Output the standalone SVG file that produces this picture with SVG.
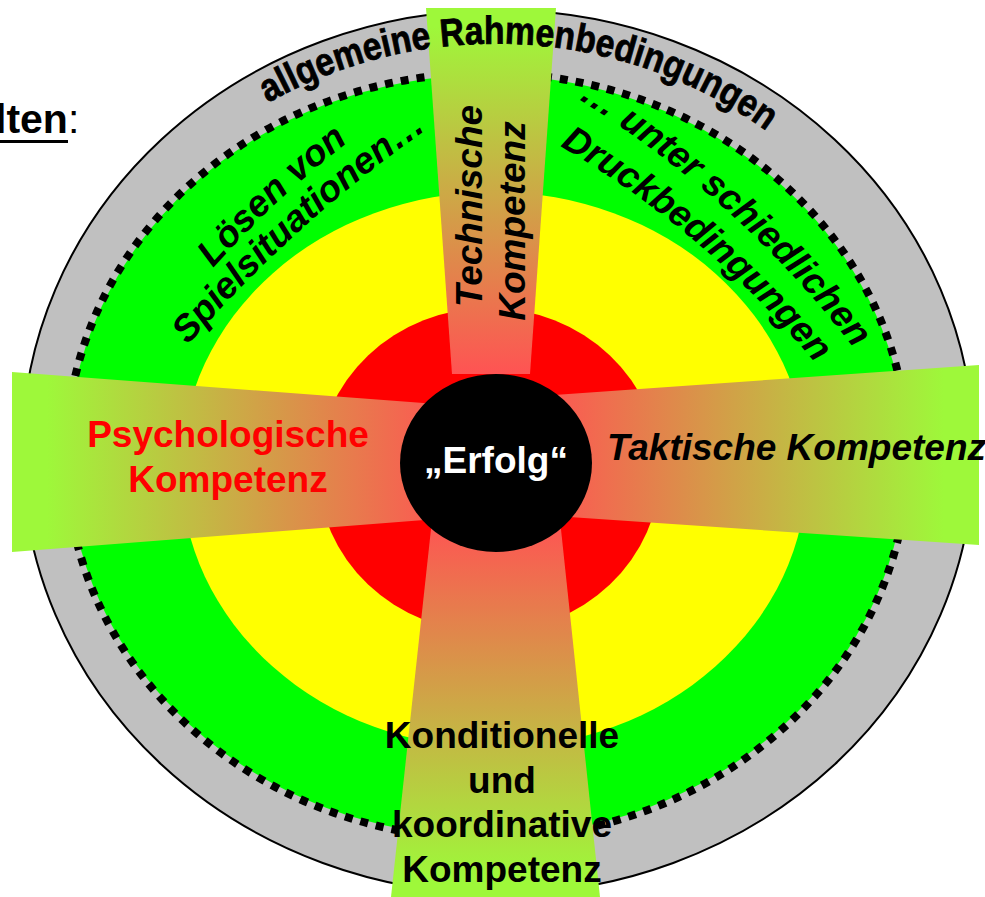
<svg xmlns="http://www.w3.org/2000/svg" width="985" height="897" viewBox="0 0 985 897">
<defs>
<linearGradient id="gTop" x1="0" y1="0" x2="0" y2="1"><stop offset="0.05" stop-color="#9EF83A"/><stop offset="1" stop-color="#FF5353"/></linearGradient>
<linearGradient id="gBottom" x1="0" y1="1" x2="0" y2="0"><stop offset="0.05" stop-color="#9EF83A"/><stop offset="1" stop-color="#FF5353"/></linearGradient>
<linearGradient id="gLeft" x1="0" y1="0" x2="1" y2="0"><stop offset="0.08" stop-color="#9EF83A"/><stop offset="1" stop-color="#FF5353"/></linearGradient>
<linearGradient id="gRight" x1="1" y1="0" x2="0" y2="0"><stop offset="0.08" stop-color="#9EF83A"/><stop offset="1" stop-color="#FF5353"/></linearGradient>
<path id="arcTop" d="M268,103 A440,412 0 0,1 830,188"/>
<path id="arcL1" d="M213,268 A1019,1019 0 0,1 431,84"/>
<path id="arcL2" d="M188,345 A1297,1297 0 0,1 500,82"/>
<path id="arcR1" d="M578,99 A1032,1032 0 0,1 890,398"/>
<path id="arcR2" d="M560,146 A948,948 0 0,1 862,425"/>
</defs>
<style>
text{font-family:"Liberation Sans",Arial,sans-serif;font-weight:bold;font-size:37px}
.it{font-style:italic}
.blk{fill:#000}
</style>
<g id="heading">
<text x="-5" y="133" class="blk" style="font-size:41px">lten<tspan style="font-weight:normal">:</tspan></text>
<rect x="-5" y="140" width="73" height="3" fill="#000"/>
</g>
<g id="ring-outer"><ellipse cx="498" cy="452" rx="476" ry="442" fill="#C0C0C0" stroke="#000" stroke-width="2"/></g>
<g id="ring-green">
<ellipse cx="487" cy="456" rx="419" ry="381" fill="#00FF00"/>
<ellipse cx="487" cy="456" rx="421" ry="383" fill="none" stroke="#000" stroke-width="8" stroke-dasharray="8 8"/>
</g>
<g id="ring-yellow"><ellipse cx="494" cy="470" rx="313" ry="278" fill="#FFFF00"/></g>
<g id="ring-red"><ellipse cx="489" cy="470" rx="171" ry="162" fill="#FF0000"/></g>
<g id="banner-top"><polygon points="426,8 556,8 530,374 452,374" fill="url(#gTop)"/></g>
<g id="banner-left"><polygon points="12,372 450,405 450,518 12,552" fill="url(#gLeft)"/></g>
<g id="banner-right"><polygon points="540,396 979,365 979,545 540,515" fill="url(#gRight)"/></g>
<g id="banner-bottom"><polygon points="432,520 560,520 600,897 391,897" fill="url(#gBottom)"/></g>
<g id="center"><ellipse cx="496" cy="463" rx="96" ry="89" fill="#000"/>
<text x="496" y="473" text-anchor="middle" fill="#FFF">„Erfolg“</text></g>
<g id="label-rahmen"><text class="blk" style="font-size:39px" stroke="#000" stroke-width="0.8"><textPath href="#arcTop" textLength="527" lengthAdjust="spacingAndGlyphs">allgemeine Rahmenbedingungen</textPath></text></g>
<g id="label-loesen">
<text class="blk it"><textPath href="#arcL1">Lösen von</textPath></text>
<text class="blk it"><textPath href="#arcL2">Spielsituationen…</textPath></text>
</g>
<g id="label-druck">
<text class="blk it"><textPath href="#arcR1">… unter schiedlichen</textPath></text>
<text class="blk it"><textPath href="#arcR2">Druckbedingungen</textPath></text>
</g>
<g id="label-technisch">
<text class="blk it" text-anchor="middle" transform="translate(482,206) rotate(-90)">Technische</text>
<text class="blk it" text-anchor="middle" transform="translate(525,221) rotate(-90)">Kompetenz</text>
</g>
<g id="label-psycho">
<text x="228" y="447" text-anchor="middle" fill="#FF0000">Psychologische</text>
<text x="228" y="492" text-anchor="middle" fill="#FF0000">Kompetenz</text>
</g>
<g id="label-taktisch"><text class="blk it" x="607" y="460">Taktische Kompetenz</text></g>
<g id="label-kondition">
<text class="blk" x="502" y="748" text-anchor="middle">Konditionelle</text>
<text class="blk" x="502" y="793" text-anchor="middle">und</text>
<text class="blk" x="502" y="837" text-anchor="middle">koordinative</text>
<text class="blk" x="502" y="882" text-anchor="middle">Kompetenz</text>
</g>
</svg>
